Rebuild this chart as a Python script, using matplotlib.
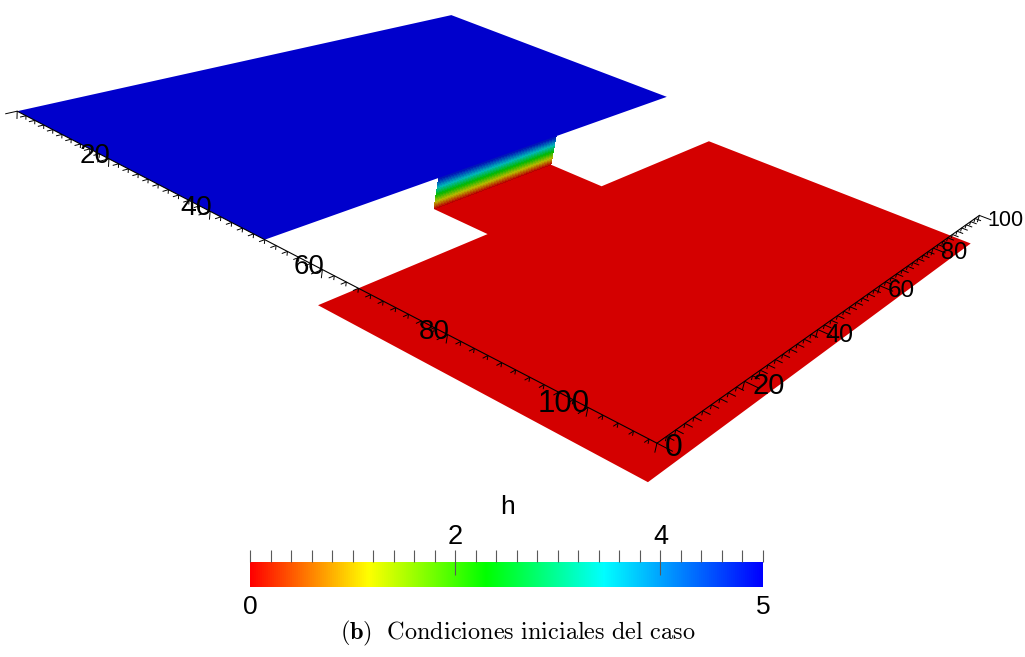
import numpy as np
import matplotlib.pyplot as plt
from matplotlib.colors import LinearSegmentedColormap, Normalize
from mpl_toolkits.mplot3d import proj3d
from mpl_toolkits.mplot3d.art3d import Poly3DCollection, Line3DCollection

plt.rcParams['mathtext.fontset'] = 'cm'
plt.rcParams['font.family'] = ['Liberation Sans', 'DejaVu Sans']

# geometria del caso (m)
x_embalse = [0, 50]
x_llanura = [60, 109]
y_dominio = [0, 100]
y_canal = [35, 65]
# calado inicial (m)
h_embalse = 5.0
h_llanura = 0.0
z_pared = np.linspace(0, 5, 26)

x_ticks = [20, 40, 60, 80, 100]
y_ticks = [0, 20, 40, 60, 80, 100]
cb_ticks = [2, 4]
cb_lims = [0, 5]

cmap = LinearSegmentedColormap.from_list(
    'h_rainbow', [(0.0, (1, 0, 0)), (0.23, (1, 1, 0)), (0.46, (0, 1, 0)),
                  (0.69, (0, 1, 1)), (1.0, (0, 0, 1))])
norm = Normalize(*cb_lims)


def color_h(h, luz):
    c = np.array(cmap(norm(h)), dtype=float)
    c[..., :3] *= luz
    return c


fig = plt.figure(figsize=(10.25, 6.57), dpi=100)
ax = fig.add_axes([-0.0425, -0.1353, 1.073, 1.674], projection='3d',
                  computed_zorder=False)
zoom = 0.86
ax.set_proj_type('persp', focal_length=0.2897 * zoom)
ax.view_init(elev=22.5, azim=-57.5, roll=-9.96)
ax.set_xlim(x_embalse[0], x_llanura[1])
ax.set_ylim(*y_dominio)
ax.set_zlim(h_llanura, h_embalse)
ax.set_box_aspect((x_llanura[1], 100, 5.0), zoom=zoom)
ax.set_axis_off()
ax.patch.set_alpha(0)

x0, xc = x_embalse
x1, x2 = x_llanura
ya, yb = y_dominio
c0, c1 = y_canal

# llanura + canal aguas abajo (h = 0)
llanura = [(xc, c0, h_llanura), (x1, c0, h_llanura), (x1, ya, h_llanura),
           (x2, ya, h_llanura), (x2, yb, h_llanura), (x1, yb, h_llanura),
           (x1, c1, h_llanura), (xc, c1, h_llanura)]
ax.add_collection3d(Poly3DCollection([llanura], facecolors=[color_h(h_llanura, 0.83)],
                                     edgecolors='none', zorder=1))

# frente de la compuerta
Y, Z = np.meshgrid(np.linspace(c0, c1, 2), z_pared)
X = np.full_like(Y, xc)
ax.plot_surface(X, Y, Z, facecolors=color_h(Z, 0.72), shade=False,
                rstride=1, cstride=1, linewidth=0, antialiased=False, zorder=2)

# embalse (h = 5)
embalse = [(x0, ya, h_embalse), (xc, ya, h_embalse), (xc, yb, h_embalse),
           (x0, yb, h_embalse)]
ax.add_collection3d(Poly3DCollection([embalse], facecolors=[color_h(h_embalse, 0.80)],
                                     edgecolors='none', zorder=3))

# ejes
zt = h_embalse
ax.plot([x0, x2], [ya, ya], [zt, zt], color='k', lw=0.8, zorder=5)
ax.plot([x2, x2], [ya, yb], [zt, zt], color='k', lw=0.8, zorder=5)
segs = []
for t in np.arange(x0, x2 + 0.1, 2):
    L = 2.0 if t % 20 == 0 else 1.0
    segs.append([(t, ya, zt), (t, ya - L, zt)])
    segs.append([(t, ya, zt), (t, ya, zt - L * 0.6)])
for t in np.arange(ya, yb + 0.1, 2):
    L = 2.0 if t % 20 == 0 else 1.0
    segs.append([(x2, t, zt), (x2 + L, t, zt)])
    segs.append([(x2, t, zt), (x2, t, zt - L * 0.6)])
ax.add_collection3d(Line3DCollection(segs, colors='k', linewidths=0.7, zorder=5))

fig.canvas.draw()
M = ax.get_proj()


def pix(x, y, z):
    px, py, _ = proj3d.proj_transform(x, y, z, M)
    return px, py


for t, fs in zip(x_ticks, [20, 20.5, 20, 20, 22.5]):
    ax.annotate(str(t), xy=pix(t, ya, zt), xytext=(2, 3), textcoords='offset pixels',
                ha='right', va='center', fontsize=fs, annotation_clip=False, zorder=6)
for t, fs in zip(y_ticks, [23, 21, 18, 17.5, 17, 15.5]):
    ax.annotate(str(t), xy=pix(x2, t, zt), xytext=(8, -5), textcoords='offset pixels',
                ha='left', va='center', fontsize=fs, annotation_clip=False, zorder=6)

# barra de color
cax = fig.add_axes([250 / 1025, 1 - 587 / 657, 513 / 1025, 25 / 657])
grad = np.linspace(*cb_lims, 512)[None, :]
cax.imshow(grad, cmap=cmap, norm=norm, aspect='auto',
           extent=[cb_lims[0], cb_lims[1], 0, 1])
cax.set_xlim(*cb_lims)
cax.set_yticks([])
for s in cax.spines.values():
    s.set_visible(False)
cax.xaxis.set_ticks_position('top')
cax.set_xticks(cb_ticks)
cax.set_xticks(np.arange(cb_lims[0], cb_lims[1] + 0.01, 0.2), minor=True)
cax.tick_params(which='minor', direction='out', length=8.5, width=0.8, color='0.35')
cax.tick_params(which='major', direction='inout', length=18, width=0.8, color='0.35',
                labelsize=19.5, pad=0)
cax.text(cb_lims[0], -0.3, str(cb_lims[0]), ha='center', va='top', fontsize=19,
         transform=cax.transData)
cax.text(cb_lims[1], -0.3, str(cb_lims[1]), ha='center', va='top', fontsize=19,
         transform=cax.transData)
fig.text(508 / 1025, 1 - 507 / 657, 'h', ha='center', va='center', fontsize=19)

fig.text(518 / 1025, 1 - 633 / 657,
         r'$\mathbf{(b)}\ \ \mathrm{Condiciones\ iniciales\ del\ caso}$',
         ha='center', va='center', fontsize=17.5)

fig.savefig('out.png', dpi=100)
